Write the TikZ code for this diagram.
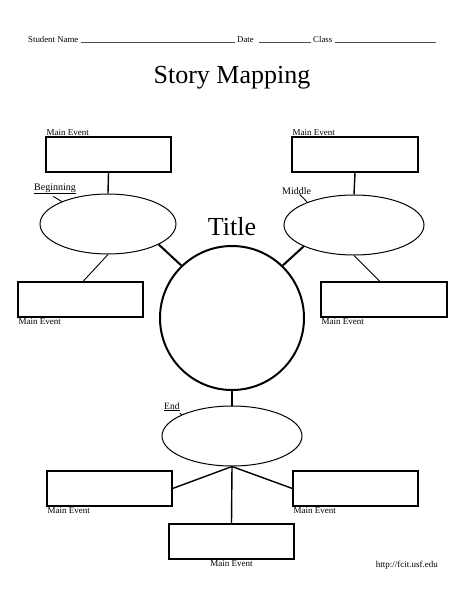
\documentclass[tikz,border=0pt]{standalone}
\usepackage{fontspec}
\setmainfont{Liberation Serif}
\usetikzlibrary{shapes.geometric}
\begin{document}
\begin{tikzpicture}[x=1pt,y=-1pt,
  evbox/.style={draw,line width=1.1pt,minimum width=125pt,minimum height=35pt,inner sep=0pt},
  oval/.style={draw,ellipse,line width=1pt,minimum width=138pt,minimum height=60pt,inner sep=0pt},
  lbl/.style={font=\fontsize{9}{10}\selectfont,inner sep=1pt},
  part/.style={font=\fontsize{10}{11}\selectfont,inner sep=1pt},
  thin/.style={line width=0.9pt},
  thick2/.style={line width=2pt},
  mid2/.style={line width=1.4pt},
  field/.style={line width=0.8pt,draw=black!70}]
\useasboundingbox (0,0) rectangle (464,600);
% header
\node[font=\fontsize{8.8}{10}\selectfont,anchor=base west,inner sep=0pt] (sn) at (28,42) {Student Name};
\node[font=\fontsize{8.8}{10}\selectfont,anchor=base west,inner sep=0pt] (dt) at (237,42) {Date};
\node[font=\fontsize{8.8}{10}\selectfont,anchor=base west,inner sep=0pt] (cl) at (313,42) {Class};
\coordinate (endline) at (436,42);
\draw[field] ([xshift=2pt]sn.base east) -- ([xshift=-2pt]dt.base west);
\draw[field] ([xshift=5pt]dt.base east) -- ([xshift=-2pt]cl.base west);
\draw[field] ([xshift=3pt]cl.base east) -- (endline);
% titles
\node[font=\fontsize{26}{30}\selectfont] (st) at (232,78) {Story Mapping};
\node[font=\fontsize{26}{30}\selectfont] (tt) at (232,227) {Title};
% circle
\node[draw,circle,line width=2pt,minimum size=144pt,inner sep=0pt] (c) at (232,318) {};
% ellipses
\node[oval,minimum width=136pt] (le) at (108,224) {};
\node[oval,minimum width=140pt] (re) at (354,225) {};
\node[oval,minimum width=140pt] (ee) at (232,436) {};
% boxes
\node[evbox] (tl) at (108.5,154.5) {};
\node[evbox,minimum width=126pt] (tr) at (355,154.5) {};
\node[evbox] (lb) at (80.5,299.5) {};
\node[evbox,minimum width=126pt] (rb) at (384,299.5) {};
\node[evbox] (bl) at (109.5,488.5) {};
\node[evbox] (br) at (355.5,488.5) {};
\node[evbox] (bb) at (231.5,541.5) {};
% main event labels
\node[lbl,anchor=south west] (ltl) at (tl.north west) {Main Event};
\node[lbl,anchor=south west] (ltr) at (tr.north west) {Main Event};
\node[lbl,anchor=north west] (llb) at (lb.south west) {Main Event};
\node[lbl,anchor=north west] (lrb) at (rb.south west) {Main Event};
\node[lbl,anchor=north west] (lbl) at (bl.south west) {Main Event};
\node[lbl,anchor=north west] (lbr) at (br.south west) {Main Event};
\node[lbl,anchor=north] (lbb) at (bb.south) {Main Event};
\node[lbl,anchor=base east,inner sep=0pt] (url) at (438,567) {http://fcit.usf.edu};
% part labels
\node[part,anchor=base west] (beg) at (33,190) {\underline{Beginning}};
\node[part,anchor=base west] (mid) at (281,194) {Middle};
\node[part,anchor=base west,font=\fontsize{9.5}{10}\selectfont] (end) at (163,409) {\underline{End}};
\draw[thin] ([xshift=-2pt,yshift=-1pt]beg.south) -- (le.154);
\draw[thin] ([xshift=3pt,yshift=1pt]mid.south) -- (re.154);
\draw[thin] ([xshift=8pt,yshift=-1pt]end.south) -- (ee.157);
% connectors
\draw[mid2] (tl.south) -- (le.north);
\draw[mid2] (tr.south) -- (re.north);
\draw[thick2] (le.-22) -- (c.134);
\draw[thick2] (re.-157) -- (c.46);
\draw[thin] (le.south) -- ([xshift=2.5pt]lb.north);
\draw[thin] (re.south) -- ([xshift=-4pt]rb.north);
\draw[mid2] (c.south) -- (ee.north);
\draw[mid2] (ee.south) -- (bl.east);
\draw[mid2] (ee.south) -- (bb.north);
\draw[mid2] (ee.south) -- (br.west);
\end{tikzpicture}
\end{document}
